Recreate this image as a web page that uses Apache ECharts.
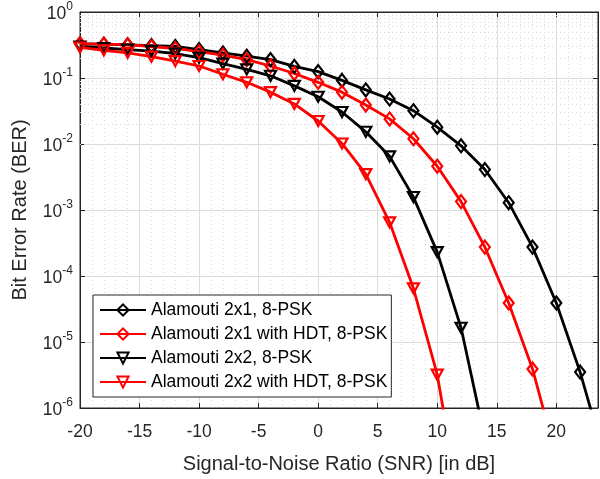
<!DOCTYPE html>
<html><head><meta charset="utf-8">
<script src="https://cdn.jsdelivr.net/npm/echarts@6/dist/echarts.min.js"></script>
<style>html,body{margin:0;padding:0;background:#fff}#c{width:600px;height:479px}</style>
</head><body><div id="c"></div>
<script>
const snr = [-20,-18,-16,-14,-12,-10,-8,-6,-4,-2,0,2,4,6,8,10,12,14,16,18,20,22,24];
const ala21 = [0.33,0.325,0.318,0.31,0.30,0.27,0.24,0.214,0.19,0.15,0.125,0.092,0.066,0.048,0.032,0.018,0.0094,0.0041,0.00129,2.74e-4,3.9e-5,3.5e-6,1.9e-7];
const ala21hdt = [0.33,0.325,0.32,0.30,0.28,0.25,0.222,0.19,0.152,0.117,0.086,0.061,0.039,0.024,0.012,0.0046,0.00134,2.74e-4,3.9e-5,3.9e-6,1.8e-7];
const ala22 = [0.30,0.285,0.27,0.255,0.235,0.203,0.165,0.135,0.108,0.076,0.052,0.0305,0.0153,0.0065,0.00157,2.3e-4,1.64e-5,3.5e-7];
const ala22hdt = [0.29,0.263,0.241,0.21,0.18,0.152,0.114,0.086,0.061,0.0405,0.0223,0.0102,0.0035,6.5e-4,6.5e-5,3.2e-6,2.6e-8];
const names = ['Alamouti 2x1, 8-PSK','Alamouti 2x1 with HDT, 8-PSK','Alamouti 2x2, 8-PSK','Alamouti 2x2 with HDT, 8-PSK'];
const xTitle = 'Signal-to-Noise Ratio (SNR) [in dB]';
const yTitle = 'Bit Error Rate (BER)';

const pair = arr => arr.map((v,i)=>[snr[i],v]);
const minorY = [];
for (let e=-6;e<0;e++) for (let m=2;m<=9;m++) minorY.push({yAxis: m*Math.pow(10,e)});

const tickCol = '#262626';
const FF = 'Liberation Sans, Arial, sans-serif';
function mk(name, data, color, sym) {
  return {
    name, type:'line', data: pair(data), z:5,
    symbol: sym==='tri' ? 'triangle' : 'diamond',
    symbolRotate: sym==='tri' ? 180 : 0,
    symbolSize: sym==='tri' ? [11,10] : [10,13],
    lineStyle:{color, width:2.8},
    itemStyle:{color:'rgba(255,255,255,0)', borderColor:color, borderWidth:2.2},
    emphasis:{disabled:true}, animation:false
  };
}
const chart = echarts.init(document.getElementById('c'), null, {renderer:'canvas'});
const xCommon = {type:'value', min:-20, max:23.5, interval:5};
const yCommon = {type:'log', min:1e-6, max:1, logBase:10};
chart.setOption({
  animation:false,
  grid:{left:80, top:12, right:2, bottom:67, show:true, borderColor:tickCol, borderWidth:1, backgroundColor:'#fff'},
  xAxis:[
    Object.assign({}, xCommon, {
      position:'bottom',
      name:xTitle, nameLocation:'middle', nameGap:46,
      nameTextStyle:{fontFamily:FF, fontSize:20, color:tickCol},
      axisLine:{onZero:false, lineStyle:{color:tickCol}},
      axisTick:{inside:true, length:5, lineStyle:{color:tickCol}},
      axisLabel:{fontFamily:FF, fontSize:17.5, color:tickCol, margin:15, showMaxLabel:false},
      splitLine:{show:true, lineStyle:{color:'#dcdcdc', width:1}},
      minorTick:{show:false, splitNumber:5},
      minorSplitLine:{show:true, lineStyle:{color:'#d8d8d8', type:[1,3], width:1}}
    }),
    Object.assign({}, xCommon, {
      position:'top', axisLabel:{show:false},
      axisLine:{onZero:false, lineStyle:{color:tickCol}},
      axisTick:{inside:true, length:5, lineStyle:{color:tickCol}},
      splitLine:{show:false}
    })
  ],
  yAxis:[
    Object.assign({}, yCommon, {
      position:'left',
      name:yTitle, nameLocation:'middle', nameGap:50,
      nameTextStyle:{fontFamily:FF, fontSize:20, color:tickCol},
      axisLine:{show:true, onZero:false, lineStyle:{color:tickCol}},
      axisTick:{show:true, inside:true, length:5, lineStyle:{color:tickCol}},
      axisLabel:{margin:7, formatter: v => '{b|10}{s|' + Math.round(Math.log10(v)) + '}',
        rich:{b:{fontFamily:FF, fontSize:17.5, color:tickCol, verticalAlign:'bottom'},
              s:{fontFamily:FF, fontSize:12, color:tickCol, verticalAlign:'top', padding:[0,0,11,0]}}},
      splitLine:{show:true, lineStyle:{color:'#dcdcdc', width:1}}
    }),
    Object.assign({}, yCommon, {
      position:'right',
      axisLine:{show:true, onZero:false, lineStyle:{color:tickCol}},
      axisTick:{show:true, inside:true, length:5, lineStyle:{color:tickCol}},
      axisLabel:{show:false}, splitLine:{show:false}
    })
  ],
  legend:{
    orient:'vertical', left:93, top:295,
    backgroundColor:'#fff', borderColor:'#262626', borderWidth:1,
    padding:[5,4,5,6], itemGap:4, itemWidth:46, itemHeight:14,
    textStyle:{fontFamily:FF, fontSize:17.5, color:'#000', lineHeight:20},
    data: names
  },
  series:[
    {type:'line', data:[], silent:true, z:1, xAxisIndex:0, yAxisIndex:0,
     markLine:{silent:true, symbol:'none', label:{show:false}, animation:false,
       lineStyle:{color:'#d8d8d8', type:[1,3], width:1}, data:minorY}},
    mk(names[0], ala21, '#000', 'dia'),
    mk(names[1], ala21hdt, '#ff0000', 'dia'),
    mk(names[2], ala22, '#000', 'tri'),
    mk(names[3], ala22hdt, '#ff0000', 'tri')
  ]
});
</script></body></html>
